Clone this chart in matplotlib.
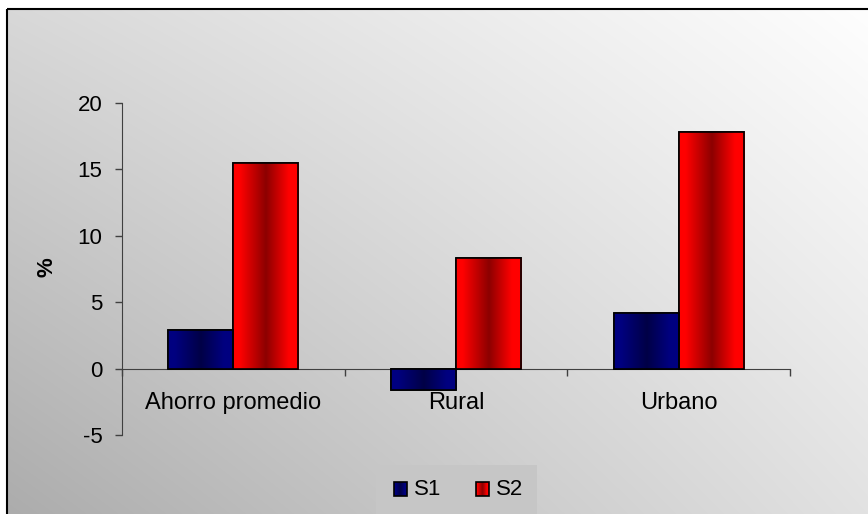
import numpy as np
import matplotlib
matplotlib.use("Agg")
import matplotlib.pyplot as plt
from matplotlib.patches import Rectangle

plt.rcParams['font.family'] = ['Liberation Sans', 'DejaVu Sans']

# ---- data ----
categories = ["Ahorro promedio", "Rural", "Urbano"]
series_names = ["S1", "S2"]
s1_values = [2.9, -1.6, 4.2]
s2_values = [15.5, 8.3, 17.8]
y_ticks = [-5, 0, 5, 10, 15, 20]

W, H, DPI = 868, 514, 100
fig = plt.figure(figsize=(W / DPI, H / DPI), dpi=DPI)
fig.patch.set_facecolor("white")

# ---- background: diagonal grey gradient inside a framed area ----
bg = fig.add_axes([0, 0, 1, 1], zorder=-10)
bg.axis("off")
xs = np.linspace(0, 1, 300)
ys = np.linspace(0, 1, 200)
X, Y = np.meshgrid(xs, ys)
tl, tr, bl, br = 0xd8, 0xfe, 0xac, 0xe2
G = (tl * (1 - X) * (1 - Y) + tr * X * (1 - Y) + bl * (1 - X) * Y + br * X * Y) / 255.0
bg.imshow(np.dstack([G, G, G]), extent=[7, W + 2, H + 2, 9], aspect="auto",
          interpolation="bilinear", zorder=0)
bg.add_patch(Rectangle((7, 9), W, H, fill=False, edgecolor="black", lw=1.5, zorder=2))
bg.set_xlim(0, W)
bg.set_ylim(H, 0)

# ---- main axes ----
ax = fig.add_axes([122 / W, 1 - 435 / H, (790 - 122) / W, (435 - 103) / H])
ax.set_facecolor("none")

centers = np.arange(len(categories)) + 0.5
bw = 0.292


def shaded(base, dark_ratio=0.55):
    t = np.linspace(0, 1, 256)
    b = np.interp(t, [0, 0.1, 0.5, 0.85, 1.0], [1, 1, dark_ratio, 1, 1])
    rgb = np.outer(b, np.array(base))[None, :, :]
    return rgb


blue = (0, 0, 128 / 255)
red = (1, 0, 0)
grad_blue = shaded(blue)
grad_red = shaded(red)

bars1 = ax.bar(centers - bw / 2, s1_values, bw, color=blue, edgecolor="black", lw=1.2, zorder=3)
bars2 = ax.bar(centers + bw / 2, s2_values, bw, color=red, edgecolor="black", lw=1.2, zorder=3)

for bars, grad in ((bars1, grad_blue), (bars2, grad_red)):
    for rect in bars:
        x0 = rect.get_x()
        x1 = x0 + rect.get_width()
        y0 = rect.get_y()
        y1 = y0 + rect.get_height()
        im = ax.imshow(grad, extent=[x0, x1, min(y0, y1), max(y0, y1)],
                       aspect="auto", interpolation="bilinear", zorder=3.5)
        im.set_clip_path(rect)
        # redraw the outline on top of the shading
        ax.add_patch(Rectangle((x0, y0), rect.get_width(), rect.get_height(),
                               fill=False, edgecolor="black", lw=1.2, zorder=4))

ax.set_xlim(0, len(categories))
ax.set_ylim(-5, 20)
ax.set_aspect("auto")

for side in ("top", "right"):
    ax.spines[side].set_visible(False)
ax.spines["bottom"].set_position(("data", 0))
ax.spines["bottom"].set_color("#404040")
ax.spines["left"].set_color("#404040")

ax.set_yticks(y_ticks)
ax.set_yticklabels([str(v) for v in y_ticks])
ax.tick_params(axis="y", direction="out", length=5, width=1, color="#404040",
               labelsize=16, pad=9)

ax.set_xticks(centers)
ax.set_xticklabels(categories)
ax.set_xticks(np.arange(len(categories) + 1), minor=True)
ax.tick_params(axis="x", which="major", length=0, labelsize=17, pad=16.5)
ax.tick_params(axis="x", which="minor", direction="out", length=5, width=1, color="#404040")

ax.set_ylabel("%", fontsize=16, fontweight="bold")
ax.yaxis.set_label_coords(-0.096, 0.506)

# ---- legend ----
lg = fig.add_axes([0, 0, 1, 1], zorder=5)
lg.axis("off")
lg.add_patch(Rectangle((376, 465), 161, 60, facecolor="#c6c6c6", edgecolor="none", zorder=1))
legend_x = [394, 476]
for name, grad, lx in zip(series_names, (grad_blue, grad_red), legend_x):
    lg.imshow(grad, extent=[lx, lx + 13, 496, 482], aspect="auto",
              interpolation="bilinear", zorder=2)
    lg.add_patch(Rectangle((lx, 482), 13, 14, fill=False, edgecolor="black", lw=1.2, zorder=3))
    lg.text(lx + 20, 489.5, name, fontsize=16, va="center", ha="left", zorder=3)
lg.set_xlim(0, W)
lg.set_ylim(H, 0)

fig.savefig("out.png", dpi=DPI)
